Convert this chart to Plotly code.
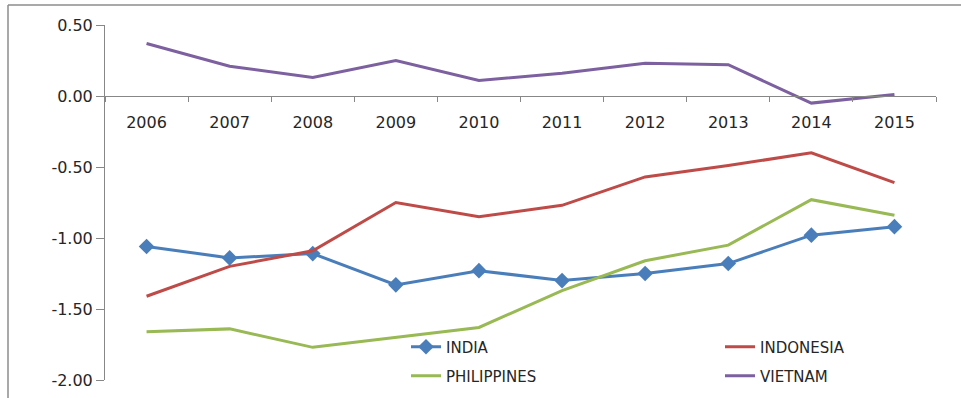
import plotly.graph_objects as go

# Yearly index values per country
years = ["2006", "2007", "2008", "2009", "2010", "2011", "2012", "2013", "2014", "2015"]
india = [-1.06, -1.14, -1.11, -1.33, -1.23, -1.30, -1.25, -1.18, -0.98, -0.92]
indonesia = [-1.41, -1.20, -1.09, -0.75, -0.85, -0.77, -0.57, -0.49, -0.40, -0.61]
philippines = [-1.66, -1.64, -1.77, -1.70, -1.63, -1.37, -1.16, -1.05, -0.73, -0.84]
vietnam = [0.37, 0.21, 0.13, 0.25, 0.11, 0.16, 0.23, 0.22, -0.05, 0.01]

y_ticks = [0.5, 0.0, -0.5, -1.0, -1.5, -2.0]
y_tick_text = [f"{v:.2f}".replace("\u2212", "-") for v in y_ticks]

FONT = "DejaVu Sans"
TEXT = "#262626"
AXIS = "#878787"

W, H = 961, 398
ML, MR, MT, MB = 105, 25, 25, 18
PW, PH = W - ML - MR, H - MT - MB


def px_x(px):
    return (px - ML) / PW


def px_y(py):
    return (H - MB - py) / PH


fig = go.Figure()

series = [
    ("INDIA", india, "#4A7EBB", "legend", dict(symbol="diamond", size=12)),
    ("INDONESIA", indonesia, "#BE4B48", "legend2", None),
    ("PHILIPPINES", philippines, "#98B954", "legend3", None),
    ("VIETNAM", vietnam, "#7D60A0", "legend4", None),
]

for name, vals, color, leg, marker in series:
    fig.add_trace(go.Scatter(
        x=years, y=vals, name=name,
        mode="lines+markers" if marker else "lines",
        line=dict(color=color, width=3),
        marker=dict(color=color, **marker) if marker else None,
        legend=leg,
    ))


def legend_box(px, py):
    return dict(
        x=px_x(px), y=px_y(py), xanchor="left", yanchor="middle",
        bgcolor="rgba(0,0,0,0)", borderwidth=0,
        font=dict(family=FONT, size=15, color=TEXT),
    )


fig.update_layout(
    width=W, height=H,
    margin=dict(l=ML, r=MR, t=MT, b=MB, autoexpand=False),
    paper_bgcolor="white", plot_bgcolor="white",
    font=dict(family=FONT, size=16, color=TEXT),
    showlegend=True,
    legend=legend_box(406, 347),
    legend2=legend_box(720, 347),
    legend3=legend_box(406, 376),
    legend4=legend_box(720, 376),
    xaxis=dict(
        type="category", categoryorder="array", categoryarray=years,
        range=[-0.5, len(years) - 0.5],
        anchor="free", position=0.8, automargin=False,
        showline=True, linecolor=AXIS, linewidth=1,
        ticks="outside", tickson="boundaries", ticklen=5, tickcolor=AXIS,
        ticklabelstandoff=12,
        showgrid=False, zeroline=False,
        tickfont=dict(family=FONT, size=16, color=TEXT),
    ),
    yaxis=dict(
        range=[-2.0, 0.5], domain=[0, 1], automargin=False,
        tickmode="array", tickvals=y_ticks, ticktext=y_tick_text,
        showline=True, linecolor=AXIS, linewidth=1,
        ticks="outside", ticklen=8, tickcolor=AXIS,
        showgrid=False, zeroline=False,
        tickfont=dict(family=FONT, size=16, color=TEXT),
    ),
    shapes=[
        dict(type="line", xref="paper", yref="paper",
             x0=px_x(8), x1=px_x(975), y0=px_y(5), y1=px_y(5),
             line=dict(color="#8C8C8C", width=1.5)),
        dict(type="line", xref="paper", yref="paper",
             x0=px_x(8), x1=px_x(8), y0=px_y(5), y1=px_y(410),
             line=dict(color="#8C8C8C", width=1.5)),
    ],
)

fig.write_html("out.html")
